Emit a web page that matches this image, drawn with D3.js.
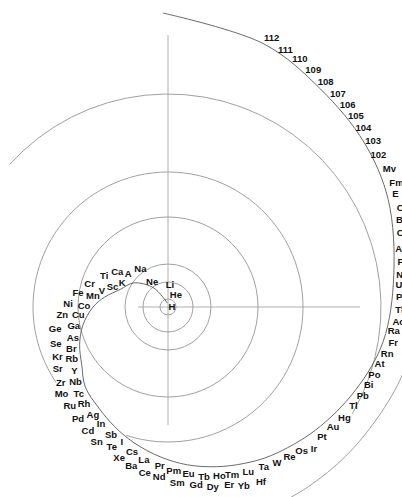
<!DOCTYPE html>
<html>
<head>
<meta charset="utf-8">
<script src="https://cdn.jsdelivr.net/npm/d3@7"></script>
<style>
  body { margin: 0; background: #fff; }
  svg text { font-family: "Liberation Sans", Arial, sans-serif; font-size: 9.5px; font-weight: bold; fill: #111; }
</style>
</head>
<body>
<div id="chart"></div>
<script>
// spiral periodic table
const width = 402, height = 497;
const cx = 168, cy = 307;

// element labels in spiral order
const symbols = [
  "H","He","Li","Ne","Na","A","K","Ca","Sc","Ti",
  "V","Cr","Mn","Fe","Co","Ni","Cu","Zn","Ga","Ge",
  "As","Se","Br","Kr","Rb","Sr","Y","Zr","Nb","Mo",
  "Tc","Ru","Rh","Pd","Ag","Cd","In","Sn","Sb","Te",
  "I","Xe","Cs","Ba","La","Ce","Pr","Nd","Pm","Sm",
  "Eu","Gd","Tb","Dy","Ho","Er","Tm","Yb","Lu","Hf",
  "Ta","W","Re","Os","Ir","Pt","Au","Hg","Tl","Pb",
  "Bi","Po","At","Rn","Fr","Ra","Ac","Th","Pa","U",
  "Np","Pu","Am","Cm","Bk","Cf","E","Fm","Mv","102",
  "103","104","105","106","107","108","109","110","111","112"
];
// polar angle of each label (degrees, clockwise from 3 o'clock)
const angles = [
  -14, -58, -85, -122, -126, -140, -152, -145, -160, -154,
  -166, -163, -171, -171, -179, -178, 175, 176, 169, 169,
  162, 162, 157, 156, 152, 151, 146, 145, 141, 141,
  136, 135, 131, 129, 125, 123, 120, 118, 114, 112,
  109, 108, 104, 103, 99, 98, 93, 93, 88, 87,
  83, 81, 78, 76, 73, 71, 69, 67, 64, 62,
  59, 55, 51, 47, 44, 40, 36, 32, 28, 24.5,
  21, 18, 15, 12, 9, 6, 3.5, 0.5, -2.5, -5.5,
  -8, -11, -14, -17.5, -20.5, -23, -26.5, -28.5, -32, -36,
  -39, -42.5, -45.5, -48.5, -51.5, -55, -58.5, -62, -65.5, -69
];
// polar radius of each label
const radii = [
  4, 15, 23, 30, 47, 52, 52, 62, 59, 71,
  68, 82, 76, 91, 84, 100, 90, 106, 96, 115,
  100, 118, 105, 121, 109, 126, 113, 131, 119, 137,
  124, 139, 128, 143, 131, 147, 134, 152, 140, 150,
  142, 158, 149, 163, 154, 167, 159, 170, 164, 176,
  168, 180, 173, 185, 176, 188, 179, 194, 183, 198,
  186, 190, 193, 196, 203, 201, 204, 208, 210, 214,
  215, 217, 219, 224, 228, 227, 231, 233, 234, 232,
  237, 240, 242, 248, 250, 254, 254, 260, 261, 260,
  264, 265, 268, 271, 273, 275, 278, 281, 283, 289
];

// rings: radius and the stretch of angle each one covers
const ringRadii = [8, 25, 43, 90, 135, 213];
const ringFrom = [0, 0, 0, 0, 146, -138];
const ringTo = [360, 360, 360, 360, 468, 30];

// guide spiral the labels sit on
const spiralAngles = [-100, -127, -145, -160, -171, -180, -192, -203, -214, -224, -235, -246, -256, -267,
  -277, -287, -296, -305, -320, -336, -351, -368, -386, -400, -415, -430, -451];
const spiralRadii = [4, 24, 42, 51, 64, 75, 87, 96, 104, 115, 122, 131, 140, 150,
  159, 167, 174, 181, 192, 205, 218, 228, 245, 256, 266, 280, 294];

// outer arc at lower right
const outerAngles = [5, 16, 28, 40, 52, 64];
const outerRadii = [248, 244, 237, 232, 228, 226];

// cross hair extents (up, down, left, right)
const cross = [272, 118, 30, 192];

const r = d3.scaleLinear().domain([0, 300]).range([0, 300]);
const a = d3.scaleLinear().domain([0, 360]).range([0, 2 * Math.PI]);
const px = (ang, rad) => cx + r(rad) * Math.cos(a(ang));
const py = (ang, rad) => cy + r(rad) * Math.sin(a(ang));

const svg = d3.select("#chart").append("svg")
  .attr("width", width)
  .attr("height", height)
  .style("display", "block");

// cross hair
svg.append("line")
  .attr("x1", cx).attr("x2", cx)
  .attr("y1", cy - r(cross[0])).attr("y2", cy + r(cross[1]))
  .attr("stroke", "#999").attr("stroke-width", 0.8);
svg.append("line")
  .attr("x1", cx - r(cross[2])).attr("x2", cx + r(cross[3]))
  .attr("y1", cy).attr("y2", cy)
  .attr("stroke", "#999").attr("stroke-width", 0.8);

// rings
svg.append("g")
  .selectAll("path")
  .data(ringRadii)
  .join("path")
  .attr("d", (d, i) => {
    const p = d3.path();
    p.arc(cx, cy, r(d), a(ringFrom[i]), a(ringTo[i]));
    return p.toString();
  })
  .attr("fill", "none")
  .attr("stroke", "#a0a0a0")
  .attr("stroke-width", 1);

const line = d3.line()
  .x(d => px(d[0], d[1]))
  .y(d => py(d[0], d[1]))
  .curve(d3.curveCatmullRom);

svg.append("path")
  .attr("d", line(spiralAngles.map((d, i) => [d, spiralRadii[i]])))
  .attr("fill", "none")
  .attr("stroke", "#444")
  .attr("stroke-width", 0.8);

svg.append("path")
  .attr("d", line(outerAngles.map((d, i) => [d, outerRadii[i]])))
  .attr("fill", "none")
  .attr("stroke", "#a0a0a0")
  .attr("stroke-width", 1);

// labels
svg.append("g")
  .selectAll("text")
  .data(symbols)
  .join("text")
  .attr("x", (d, i) => px(angles[i], radii[i]))
  .attr("y", (d, i) => py(angles[i], radii[i]))
  .attr("text-anchor", "middle")
  .attr("dominant-baseline", "central")
  .text(d => d);
</script>
</body>
</html>
